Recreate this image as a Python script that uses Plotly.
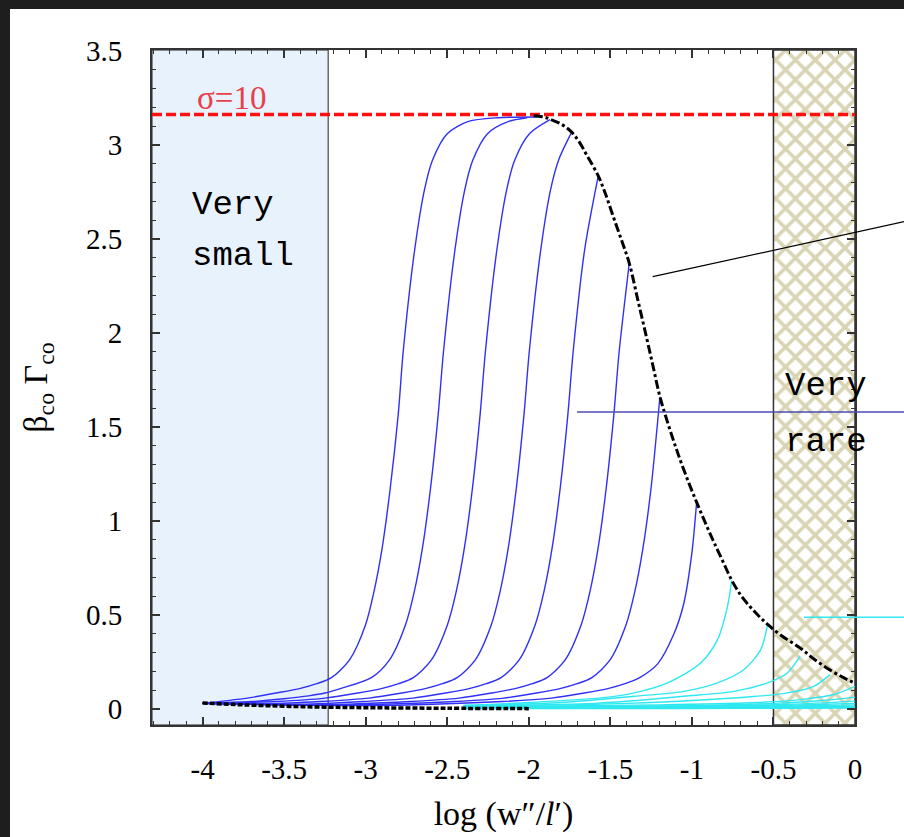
import plotly.graph_objects as go

# ---------------- data ----------------
x_ticks = [-4, -3.5, -3, -2.5, -2, -1.5, -1, -0.5, 0]
x_ticktext = ["-4", "-3.5", "-3", "-2.5", "-2", "-1.5", "-1", "-0.5", "0"]
y_ticks = [0, 0.5, 1, 1.5, 2, 2.5, 3, 3.5]
y_ticktext = ["0", "0.5", "1", "1.5", "2", "2.5", "3", "3.5"]

sigma_level = 3.162          # sqrt(10)
small_region = [-4.31, -3.23]
rare_region = [-0.5, 0.0]

blue_x = [
    [-4.0, -3.75, -3.55, -3.4, -3.3, -3.21, -3.1, -3.0, -2.95, -2.9, -2.85, -2.80, -2.77, -2.70, -2.64, -2.59, -2.50, -2.37, -2.19, -1.95],
    [-4.0, -3.70, -3.50, -3.35, -3.25, -3.15, -2.965, -2.855, -2.755, -2.703, -2.653, -2.603, -2.555, -2.523, -2.453, -2.393, -2.343, -2.253, -2.123, -2.01],
    [-4.0, -3.548, -3.248, -3.048, -2.898, -2.798, -2.708, -2.598, -2.498, -2.446, -2.396, -2.346, -2.298, -2.266, -2.196, -2.136, -2.086, -1.996, -1.87],
    [-4.0, -3.60, -3.279, -2.979, -2.779, -2.629, -2.529, -2.439, -2.329, -2.229, -2.177, -2.127, -2.077, -2.029, -1.997, -1.927, -1.867, -1.817, -1.737],
    [-4.0, -3.40, -3.01, -2.71, -2.51, -2.36, -2.26, -2.17, -2.06, -1.96, -1.908, -1.858, -1.808, -1.760, -1.728, -1.658, -1.574],
    [-4.0, -3.30, -2.728, -2.428, -2.228, -2.078, -1.978, -1.888, -1.778, -1.678, -1.626, -1.576, -1.526, -1.478, -1.446, -1.384],
    [-4.0, -3.20, -2.453, -2.153, -1.953, -1.803, -1.703, -1.613, -1.503, -1.403, -1.351, -1.301, -1.251, -1.196],
    [-4.0, -3.00, -2.16, -1.86, -1.66, -1.51, -1.41, -1.32, -1.21, -1.11, -1.05, -1.0, -0.971],
]
blue_y = [
    [0.03, 0.055, 0.085, 0.11, 0.135, 0.167, 0.26, 0.45, 0.62, 0.85, 1.17, 1.57, 1.9, 2.44, 2.76, 2.92, 3.06, 3.125, 3.145, 3.149],
    [0.03, 0.04, 0.055, 0.07, 0.085, 0.11, 0.167, 0.26, 0.45, 0.62, 0.85, 1.17, 1.57, 1.9, 2.44, 2.76, 2.92, 3.06, 3.125, 3.145],
    [0.03, 0.04, 0.058, 0.085, 0.11, 0.135, 0.167, 0.26, 0.45, 0.62, 0.85, 1.17, 1.57, 1.9, 2.44, 2.76, 2.92, 3.06, 3.135],
    [0.03, 0.028, 0.04, 0.058, 0.085, 0.11, 0.135, 0.167, 0.26, 0.45, 0.62, 0.85, 1.17, 1.57, 1.9, 2.44, 2.76, 2.92, 3.068],
    [0.03, 0.025, 0.04, 0.058, 0.085, 0.11, 0.135, 0.167, 0.26, 0.45, 0.62, 0.85, 1.17, 1.57, 1.9, 2.44, 2.835],
    [0.03, 0.022, 0.04, 0.058, 0.085, 0.11, 0.135, 0.167, 0.26, 0.45, 0.62, 0.85, 1.17, 1.57, 1.9, 2.371],
    [0.03, 0.02, 0.04, 0.058, 0.085, 0.11, 0.135, 0.167, 0.26, 0.45, 0.62, 0.85, 1.17, 1.661],
    [0.03, 0.018, 0.04, 0.058, 0.085, 0.11, 0.135, 0.167, 0.24, 0.40, 0.56, 0.83, 1.10],
]

cyan_x = [
    [-2.4, -2.0, -1.558, -1.354, -1.149, -0.946, -0.843, -0.782, -0.756],
    [-2.4, -1.8, -1.354, -1.048, -0.843, -0.68, -0.578, -0.537],
    [-2.4, -1.6, -1.048, -0.742, -0.537, -0.415, -0.337],
    [-2.4, -1.4, -0.64, -0.415, -0.252, -0.153],
    [-2.4, -1.2, -0.64, -0.334, -0.13, 0.0],
    [-2.4, -1.0, -0.5, -0.2, 0.0],
    [-2.4, -1.0, -0.4, 0.0],
    [-2.4, -1.0, -0.4, 0.0],
    [-2.4, -1.0, -0.4, 0.0],
    [-2.4, -1.0, -0.4, 0.0],
    [-2.4, -1.0, -0.4, 0.0],
    [-2.4, -1.0, -0.4, 0.0],
]
cyan_y = [
    [0.02, 0.035, 0.059, 0.086, 0.139, 0.245, 0.369, 0.545, 0.685],
    [0.018, 0.035, 0.068, 0.094, 0.139, 0.21, 0.316, 0.445],
    [0.016, 0.03, 0.068, 0.094, 0.139, 0.192, 0.28],
    [0.014, 0.03, 0.065, 0.086, 0.121, 0.183],
    [0.012, 0.022, 0.033, 0.05, 0.077, 0.121],
    [0.01, 0.018, 0.03, 0.045, 0.063],
    [0.008, 0.015, 0.025, 0.042],
    [0.006, 0.012, 0.02, 0.03],
    [0.005, 0.01, 0.015, 0.022],
    [0.004, 0.007, 0.011, 0.015],
    [0.003, 0.005, 0.007, 0.009],
    [0.002, 0.003, 0.004, 0.005],
]

envelope_x = [-1.97, -1.95, -1.90, -1.87, -1.80, -1.737, -1.69, -1.645, -1.574, -1.53, -1.482, -1.43, -1.384,
              -1.33, -1.277, -1.236, -1.196, -1.14, -1.08, -1.02, -0.971, -0.92, -0.869, -0.81, -0.756,
              -0.70, -0.644, -0.59, -0.532, -0.45, -0.337, -0.25, -0.153, -0.07, 0.0]
envelope_y = [3.155, 3.154, 3.147, 3.137, 3.11, 3.068, 3.015, 2.947, 2.835, 2.74, 2.619, 2.49, 2.371,
              2.17, 1.972, 1.815, 1.661, 1.50, 1.345, 1.205, 1.10, 0.995, 0.895, 0.785, 0.685,
              0.605, 0.545, 0.495, 0.447, 0.39, 0.325, 0.265, 0.207, 0.167, 0.137]

floor_x = [-4.0, -3.75, -3.5, -3.25, -3.0, -2.5, -2.0]
floor_y = [0.032, 0.022, 0.015, 0.01, 0.007, 0.004, 0.002]

# ---------------- figure ----------------
YMIN, YMAX = -0.085, 3.505
XMIN, XMAX = -4.31, 0.0
serif = "Liberation Serif, Times New Roman, serif"
mono = "Liberation Mono, DejaVu Sans Mono, monospace"

fig = go.Figure()

# hatched "very rare" region
fig.add_trace(go.Scatter(
    x=[rare_region[0], rare_region[1], rare_region[1], rare_region[0], rare_region[0]],
    y=[YMIN, YMIN, YMAX, YMAX, YMIN],
    fill="toself", mode="lines",
    line=dict(color="#333333", width=1.5),
    fillcolor="white",
    fillpattern=dict(shape="x", fgcolor="#b3aa6a", bgcolor="white", size=14, solidity=0.45),
    hoverinfo="skip", showlegend=False))

for xs, ys in zip(cyan_x, cyan_y):
    fig.add_trace(go.Scatter(x=xs, y=ys, mode="lines", line=dict(color="#2ee8f0", width=1.4, shape="spline", smoothing=0.8),
                             hoverinfo="skip", showlegend=False))

for xs, ys in zip(blue_x, blue_y):
    fig.add_trace(go.Scatter(x=xs, y=ys, mode="lines", line=dict(color="#3030f8", width=1.4, shape="spline", smoothing=0.8),
                             hoverinfo="skip", showlegend=False))

fig.add_trace(go.Scatter(x=[XMIN, XMAX], y=[sigma_level, sigma_level], mode="lines",
                         line=dict(color="#ff1010", width=3.5, dash="10px,4px"), hoverinfo="skip", showlegend=False))

fig.add_trace(go.Scatter(x=floor_x, y=floor_y, mode="lines",
                         line=dict(color="black", width=3.5, dash="5px,2px", shape="spline"), hoverinfo="skip", showlegend=False))

fig.add_trace(go.Scatter(x=envelope_x, y=envelope_y, mode="lines",
                         line=dict(color="black", width=3, dash="9px,3px,3px,3px", shape="spline", smoothing=1.0),
                         hoverinfo="skip", showlegend=False))

def px2paper_x(px):
    return (px - 152) / 703.0

def px2paper_y(py):
    return (725 - py) / 675.0

shapes = [
    # "very small" shaded band
    dict(type="rect", xref="x", yref="y", x0=small_region[0], x1=small_region[1], y0=YMIN, y1=YMAX,
         fillcolor="#e8f2fc", line=dict(color="#222222", width=1), layer="below"),
    # dark photo frame strips
    dict(type="rect", xref="paper", yref="paper", x0=px2paper_x(0), x1=px2paper_x(10), y0=px2paper_y(840), y1=px2paper_y(0),
         fillcolor="#1e1e1e", line=dict(width=0), layer="above"),
    dict(type="rect", xref="paper", yref="paper", x0=px2paper_x(0), x1=px2paper_x(910), y0=px2paper_y(9), y1=px2paper_y(0),
         fillcolor="#1e1e1e", line=dict(width=0), layer="above"),
    # pointer lines running off the right side
    dict(type="line", xref="paper", yref="paper", x0=px2paper_x(652.7), y0=px2paper_y(276.7), x1=px2paper_x(920), y1=px2paper_y(218.2),
         line=dict(color="black", width=1.2), layer="above"),
    dict(type="line", xref="paper", yref="paper", x0=px2paper_x(577), y0=px2paper_y(412), x1=px2paper_x(920), y1=px2paper_y(412),
         line=dict(color="#4d4db3", width=1.5), layer="above"),
    dict(type="line", xref="paper", yref="paper", x0=px2paper_x(804), y0=px2paper_y(617.3), x1=px2paper_x(920), y1=px2paper_y(617.3),
         line=dict(color="#33e8f0", width=1.5), layer="above"),
]

annotations = [
    dict(x=-3.82, y=3.25, xref="x", yref="y", text="σ=10", showarrow=False,
         font=dict(family=serif, size=33, color="#e8404a")),
    dict(x=-4.08, y=2.68, xref="x", yref="y", text="Very", showarrow=False, xanchor="left",
         font=dict(family=mono, size=34, color="black")),
    dict(x=-4.08, y=2.41, xref="x", yref="y", text="small", showarrow=False, xanchor="left",
         font=dict(family=mono, size=34, color="black")),
    dict(x=-0.441, y=1.72, xref="x", yref="y", text="Very", showarrow=False, xanchor="left",
         font=dict(family=mono, size=34, color="black")),
    dict(x=-0.441, y=1.42, xref="x", yref="y", text="rare", showarrow=False, xanchor="left",
         font=dict(family=mono, size=34, color="black")),
]

axis_common = dict(showline=True, linecolor="#333333", linewidth=2, mirror="allticks",
                   ticks="inside", ticklen=8, tickwidth=1.5, tickcolor="#333333",
                   showgrid=False, zeroline=False,
                   tickfont=dict(family=serif, size=29, color="black"))

fig.update_layout(
    width=904, height=837,
    margin=dict(l=152, r=49, t=50, b=112),
    paper_bgcolor="white", plot_bgcolor="white",
    showlegend=False,
    shapes=shapes, annotations=annotations,
    xaxis=dict(range=[XMIN, XMAX], tickmode="array", tickvals=x_ticks, ticktext=x_ticktext,
               minor=dict(tickmode="linear", tick0=0, dtick=0.1, ticks="inside", ticklen=4, tickwidth=1.2, tickcolor="#333333"),
               ticklabelstandoff=17,
               title=dict(text="log (w″/<i>l</i>′)", font=dict(family=serif, size=34, color="black"), standoff=17),
               **axis_common),
    yaxis=dict(range=[YMIN, YMAX], tickmode="array", tickvals=y_ticks, ticktext=y_ticktext,
               minor=dict(tickmode="linear", tick0=0, dtick=0.1, ticks="inside", ticklen=4, tickwidth=1.2, tickcolor="#333333"),
               ticklabelstandoff=22,
               title=dict(text="β<sub>co</sub> Γ<sub>co</sub>", font=dict(family=serif, size=34, color="black"), standoff=28),
               **axis_common),
)

fig.write_html("out.html")
